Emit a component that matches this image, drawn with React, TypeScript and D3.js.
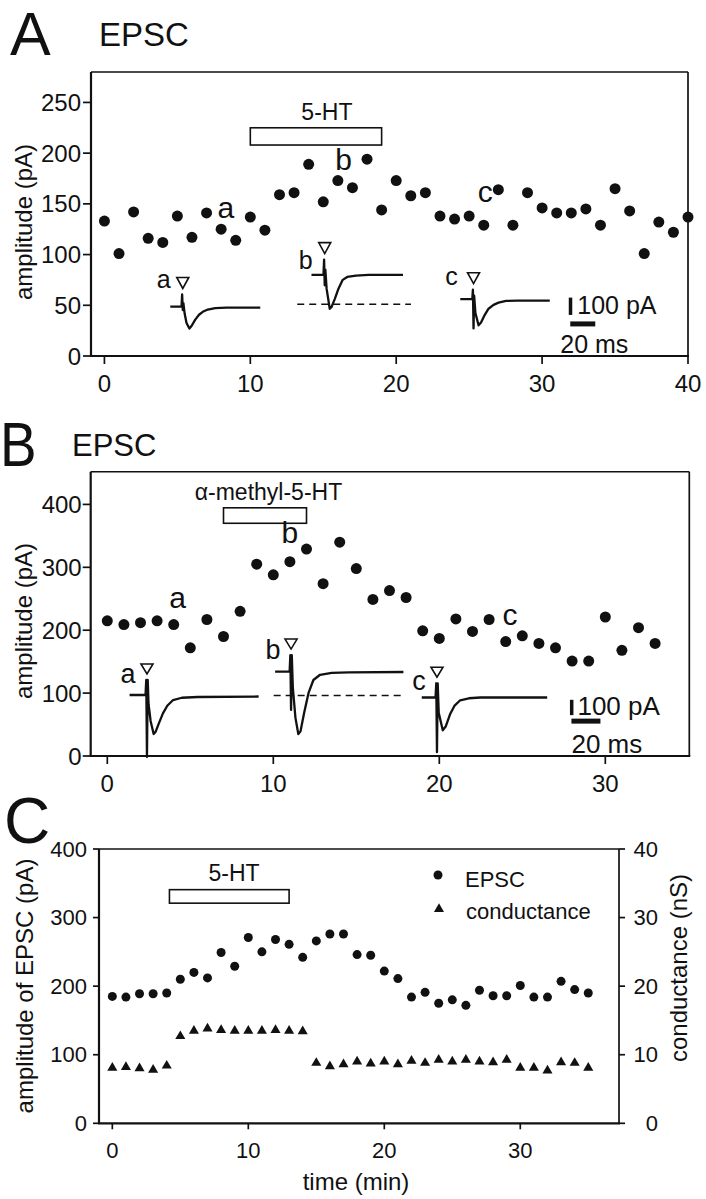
import React from 'react';
import * as d3 from 'd3';

const FONT = '"Liberation Sans", Arial, Helvetica, sans-serif';
const INK = '#111';

// ---------------- Panel A ----------------
const aXTicks = [0, 10, 20, 30, 40];
const aYTicks = [0, 50, 100, 150, 200, 250];
const aEpsc = [133, 101, 142, 116, 112, 138, 117, 141, 125, 114, 137, 124, 159, 161, 189, 152, 173, 166, 194, 144, 173, 158, 161, 138, 135, 138, 129, 164, 129, 161, 146, 141, 141, 145, 129, 165, 143, 101, 132, 122, 137];
const aDrugName = '5-HT';
const aDrugSpan = [10, 19];
const aDrugLevels = [208, 225];
const aDrugText = [15.25, 233];
const aPointLabels: [string, number, number][] = [['a', 8.33, 136], ['b', 16.4, 183.6], ['c', 26.1, 152]];
// inset traces: [ms from stimulus, pA from baseline]
const aTraceA = [[-10, 0], [-1, 0], [-0.5, 70], [0, -20], [0.5, 20], [1.5, -40], [3, -95], [5.3, -127], [7, -112], [10, -75], [13, -47], [16, -30], [20, -17], [26, -9], [35, -6], [62, -6]];
const aTraceB = [[-10.6, 0], [-1, 0], [-0.5, 88], [0, -60], [0.5, 30], [1.5, -80], [4, -196], [5.5, -185], [8, -140], [11, -80], [14.4, -29], [18, -12], [25, -4], [35, 0], [62.6, 0]];
const aTraceC = [[-10.6, 0], [-1, 0], [-0.5, 55], [0, -169], [0.5, 20], [1.5, -80], [4, -151], [6, -135], [9, -90], [12, -55], [16, -33], [20, -20], [26, -10], [35, -8], [61, -8]];
const aTraceAnchors = [[5.37, 48.7], [15.1, 80], [25.3, 56]];
const aDashLevel = 51;
const aDashSpan = [-22, 69];

// ---------------- Panel B ----------------
const bXTicks = [0, 10, 20, 30];
const bYTicks = [0, 100, 200, 300, 400];
const bEpsc = [215, 209, 212, 215, 209, 172, 217, 190, 230, 305, 288, 309, 329, 274, 340, 298, 249, 263, 252, 199, 187, 218, 198, 217, 182, 191, 179, 172, 151, 151, 221, 168, 204, 179];
const bDrugName = 'α-methyl-5-HT';
const bDrugSpan = [7, 12];
const bDrugLevels = [370, 394.6];
const bDrugText = [9.71, 407];
const bPointLabels: [string, number, number][] = [['a', 4.23, 235], ['b', 11.0, 338.6], ['c', 24.26, 208]];
const bTraceA = [[-12, 0], [-1, 0], [-0.5, 98], [0, -405], [0.5, 98], [1.1, -60], [2.5, -170], [4.6, -255], [6, -240], [8, -190], [11, -120], [14, -70], [18, -33], [24, -18], [35, -13], [77, -10]];
const bTraceB = [[-11, 0], [-1, 0], [-0.5, 109], [0, -250], [0.5, 109], [1.2, -100], [3, -300], [5, -408], [6.5, -390], [9, -270], [12, -140], [15.4, -54], [20, -20], [28, -8], [40, -4], [77.5, -2]];
const bTraceC = [[-10.5, 0], [-1, 0], [-0.5, 93], [0, -357], [0.5, 93], [1.2, -100], [4, -214], [6, -190], [9, -110], [12, -55], [16, -18], [22, -5], [30, 0], [76, 0]];
const bTraceAnchors = [[2.39, 97], [11.07, 134], [19.86, 93]];
const bDashLevel = 96;
const bDashSpan = [-12, 78.6];

// ---------------- Panel C ----------------
const cXTicks = [0, 10, 20, 30];
const cYTicks = [0, 100, 200, 300, 400];
const cY2Ticks = [0, 10, 20, 30, 40];
const cEpsc = [185, 184, 189, 189, 190, 210, 220, 212, 249, 229, 271, 250, 268, 261, 242, 266, 276, 276, 246, 245, 222, 211, 184, 191, 175, 180, 172, 194, 186, 186, 201, 184, 184, 207, 195, 190];
const cConductance = [8.1, 8.2, 8.0, 7.8, 8.4, 12.7, 13.5, 13.8, 13.6, 13.5, 13.5, 13.5, 13.6, 13.5, 13.4, 8.8, 8.3, 8.6, 9.0, 8.7, 9.0, 8.6, 9.1, 8.8, 9.25, 9.0, 9.25, 9.0, 8.9, 9.25, 8.1, 8.1, 7.7, 8.9, 8.8, 8.1];
const cDrugName = '5-HT';
const cDrugSpan = [4.2, 13];
const cDrugLevels = [321, 340.7];
const cDrugText = [8.95, 353];
const cLegend = ['EPSC', 'conductance'];

type Lin = d3.ScaleLinear<number, number>;

function Frame({ x, y, xTicks, yTicks, tick, fs, xLabDy, yLabDx, y2, y2Ticks, y2LabDx }: any) {
  const [x0, x1] = x.range();
  const [yb, yt] = y.range();
  return (
    <g>
      <line x1={x0} x2={x1} y1={yt} y2={yt} stroke={INK} strokeWidth={1.5} />
      <line x1={x1} x2={x1} y1={yt} y2={yb} stroke={INK} strokeWidth={1.7} />
      <line x1={x0 - 1} x2={x1 + 1} y1={yb} y2={yb} stroke={INK} strokeWidth={2.2} />
      <line x1={x0} x2={x0} y1={yt} y2={yb} stroke={INK} strokeWidth={2.2} />
      {xTicks.map((t: number) => (
        <g key={'x' + t}>
          <line x1={x(t)} x2={x(t)} y1={yb} y2={yb + tick} stroke={INK} strokeWidth={1.7} />
          <text x={x(t)} y={yb + xLabDy} textAnchor="middle" dominantBaseline="central" fontSize={fs}>{t}</text>
        </g>
      ))}
      {yTicks.map((t: number) => (
        <g key={'y' + t}>
          <line x1={x0 - tick} x2={x0} y1={y(t)} y2={y(t)} stroke={INK} strokeWidth={1.7} />
          <text x={x0 - yLabDx} y={y(t)} textAnchor="end" dominantBaseline="central" fontSize={fs}>{t}</text>
        </g>
      ))}
      {y2 && y2Ticks.map((t: number) => (
        <g key={'y2' + t}>
          <line x1={x1} x2={x1 + tick} y1={y2(t)} y2={y2(t)} stroke={INK} strokeWidth={1.7} />
          <text x={x1 + y2LabDx} y={y2(t)} textAnchor="end" dominantBaseline="central" fontSize={fs}>{t}</text>
        </g>
      ))}
    </g>
  );
}

function DrugBar({ x, y, span, levels, name, text, fs }: any) {
  return (
    <g>
      <rect x={x(span[0])} y={y(levels[1])} width={x(span[1]) - x(span[0])} height={y(levels[0]) - y(levels[1])} fill="#fff" stroke={INK} strokeWidth={1.6} />
      <text x={x(text[0])} y={y(text[1])} textAnchor="middle" fontSize={fs}>{name}</text>
    </g>
  );
}

function Inset({ x, y, pts, anchor, msPx, paPx, label, labDx, labDy, labFs, triW, triH }: any) {
  const ax = x(anchor[0]);
  const ay = y(anchor[1]);
  const line = d3.line<number[]>().x((d) => ax + d[0] * msPx).y((d) => ay - d[1] * paPx);
  const top = d3.min(pts, (d: number[]) => ay - d[1] * paPx) as number;
  const tb = top - 6;
  const tri = `M${ax - triW / 2},${tb - triH}L${ax + triW / 2},${tb - triH}L${ax},${tb}Z`;
  return (
    <g>
      <path d={line(pts) || ''} fill="none" stroke={INK} strokeWidth={2.3} strokeLinejoin="round" />
      <path d={tri} fill="#fff" stroke={INK} strokeWidth={1.6} />
      <text x={ax + labDx} y={tb + labDy} textAnchor="middle" fontSize={labFs}>{label}</text>
    </g>
  );
}

function ScaleBars({ x0, y0, msPx, paPx, hGap, fs, pADx, pADy, msDx, msDy }: any) {
  const vh = 100 * paPx;
  const hw = 20 * msPx;
  return (
    <g>
      <rect x={x0 - 1.5} y={y0 - vh} width={3.5} height={vh} fill={INK} />
      <rect x={x0} y={y0 + hGap - 2.5} width={hw} height={5} fill={INK} />
      <text x={x0 + pADx} y={y0 + pADy} fontSize={fs}>100 pA</text>
      <text x={x0 + msDx} y={y0 + hGap + msDy} fontSize={fs}>20 ms</text>
    </g>
  );
}

function PanelA() {
  const x: Lin = d3.scaleLinear().domain([-0.92, 40]).range([91, 688]);
  const y: Lin = d3.scaleLinear().domain([0, 280]).range([356, 72]);
  const msPx = 1.25, paPx = 0.173;
  const traces = [aTraceA, aTraceB, aTraceC];
  const labOff = [[-19, 0], [-19, 15], [-22, 1]];
  const dashX = x(aTraceAnchors[1][0]);
  return (
    <g>
      <text x={10} y={55} fontSize={61}>A</text>
      <text x={99} y={46} fontSize={33}>EPSC</text>
      <text transform={`translate(23,222) rotate(-90)`} textAnchor="middle" dominantBaseline="central" fontSize={24}>amplitude (pA)</text>
      <Frame x={x} y={y} xTicks={aXTicks} yTicks={aYTicks} tick={8} fs={24} xLabDy={27} yLabDx={10} />
      <DrugBar x={x} y={y} span={aDrugSpan} levels={aDrugLevels} name={aDrugName} text={aDrugText} fs={23} />
      {aEpsc.map((v, i) => <circle key={i} cx={x(i)} cy={y(v)} r={5.5} fill={INK} />)}
      {aPointLabels.map(([s, px, py]) => <text key={s} x={x(px)} y={y(py)} textAnchor="middle" fontSize={30}>{s}</text>)}
      <line x1={dashX + aDashSpan[0] * msPx} x2={dashX + aDashSpan[1] * msPx} y1={y(aDashLevel)} y2={y(aDashLevel)} stroke={INK} strokeWidth={1.5} strokeDasharray="7,5" />
      {traces.map((pts, i) => (
        <Inset key={i} x={x} y={y} pts={pts} anchor={aTraceAnchors[i]} msPx={msPx} paPx={paPx} label={'abc'[i]} labDx={labOff[i][0]} labDy={labOff[i][1]} labFs={25} triW={12} triH={11} />
      ))}
      <ScaleBars x0={x(31.93)} y0={y(40.5)} msPx={msPx} paPx={paPx} hGap={9} fs={25} pADx={7} pADy={-1} msDx={-10} msDy={29} />
    </g>
  );
}

function PanelB() {
  const x: Lin = d3.scaleLinear().domain([-1, 35.06]).range([90.7, 689.3]);
  const y: Lin = d3.scaleLinear().domain([0, 452]).range([756, 471.7]);
  const msPx = 1.45, paPx = 0.153;
  const traces = [bTraceA, bTraceB, bTraceC];
  const labOff = [[-19, 9], [-18, 10], [-18, 13]];
  const dashX = x(bTraceAnchors[1][0]);
  return (
    <g>
      <text transform="translate(0,466) scale(0.87,1)" fontSize={63}>B</text>
      <text x={72} y={456} fontSize={31}>EPSC</text>
      <text transform={`translate(23,621) rotate(-90)`} textAnchor="middle" dominantBaseline="central" fontSize={24}>amplitude (pA)</text>
      <Frame x={x} y={y} xTicks={bXTicks} yTicks={bYTicks} tick={8} fs={24} xLabDy={27} yLabDx={9} />
      <DrugBar x={x} y={y} span={bDrugSpan} levels={bDrugLevels} name={bDrugName} text={bDrugText} fs={23} />
      {bEpsc.map((v, i) => <circle key={i} cx={x(i)} cy={y(v)} r={5.5} fill={INK} />)}
      {bPointLabels.map(([s, px, py]) => <text key={s} x={x(px)} y={y(py)} textAnchor="middle" fontSize={30}>{s}</text>)}
      <line x1={dashX + bDashSpan[0] * msPx} x2={dashX + bDashSpan[1] * msPx} y1={y(bDashLevel)} y2={y(bDashLevel)} stroke={INK} strokeWidth={1.5} strokeDasharray="7,5" />
      {traces.map((pts, i) => (
        <Inset key={i} x={x} y={y} pts={pts} anchor={bTraceAnchors[i]} msPx={msPx} paPx={paPx} label={'abc'[i]} labDx={labOff[i][0]} labDy={labOff[i][1]} labFs={27} triW={12} triH={10} />
      ))}
      <ScaleBars x0={x(27.96)} y0={y(65)} msPx={msPx} paPx={paPx} hGap={6} fs={26} pADx={6} pADy={0} msDx={0} msDy={32} />
    </g>
  );
}

function PanelC() {
  const x: Lin = d3.scaleLinear().domain([-0.98, 37.26]).range([99, 619]);
  const y: Lin = d3.scaleLinear().domain([0, 400]).range([1123.3, 849]);
  const y2: Lin = d3.scaleLinear().domain([0, 40]).range([1123.3, 849]);
  const tri = d3.symbol().type(d3.symbolTriangle).size(44)() || '';
  return (
    <g>
      <text x={4} y={843} fontSize={64}>C</text>
      <text transform={`translate(24,986) rotate(-90)`} textAnchor="middle" dominantBaseline="central" fontSize={24}>amplitude of EPSC (pA)</text>
      <text transform={`translate(678,968) rotate(-90)`} textAnchor="middle" dominantBaseline="central" fontSize={24}>conductance (nS)</text>
      <text x={356} y={1181} textAnchor="middle" dominantBaseline="central" fontSize={24}>time (min)</text>
      <Frame x={x} y={y} xTicks={cXTicks} yTicks={cYTicks} tick={6} fs={22} xLabDy={27} yLabDx={12} y2={y2} y2Ticks={cY2Ticks} y2LabDx={39} />
      <DrugBar x={x} y={y} span={cDrugSpan} levels={cDrugLevels} name={cDrugName} text={cDrugText} fs={23} />
      {cEpsc.map((v, i) => <circle key={'e' + i} cx={x(i)} cy={y(v)} r={4.5} fill={INK} />)}
      {cConductance.map((v, i) => <path key={'g' + i} d={tri} transform={`translate(${x(i)},${y2(v)})`} fill={INK} />)}
      <circle cx={438} cy={875} r={4.5} fill={INK} />
      <text x={465} y={887} fontSize={22}>{cLegend[0]}</text>
      <path d={tri} transform="translate(439,909)" fill={INK} />
      <text x={466} y={919} fontSize={22}>{cLegend[1]}</text>
    </g>
  );
}

export default function App() {
  return (
    <svg width={706} height={1199} viewBox="0 0 706 1199" style={{ position: 'absolute', left: 0, top: 0, background: '#fff' }} fontFamily={FONT} fill={INK}>
      <rect width={706} height={1199} fill="#fff" />
      <PanelA />
      <PanelB />
      <PanelC />
    </svg>
  );
}
